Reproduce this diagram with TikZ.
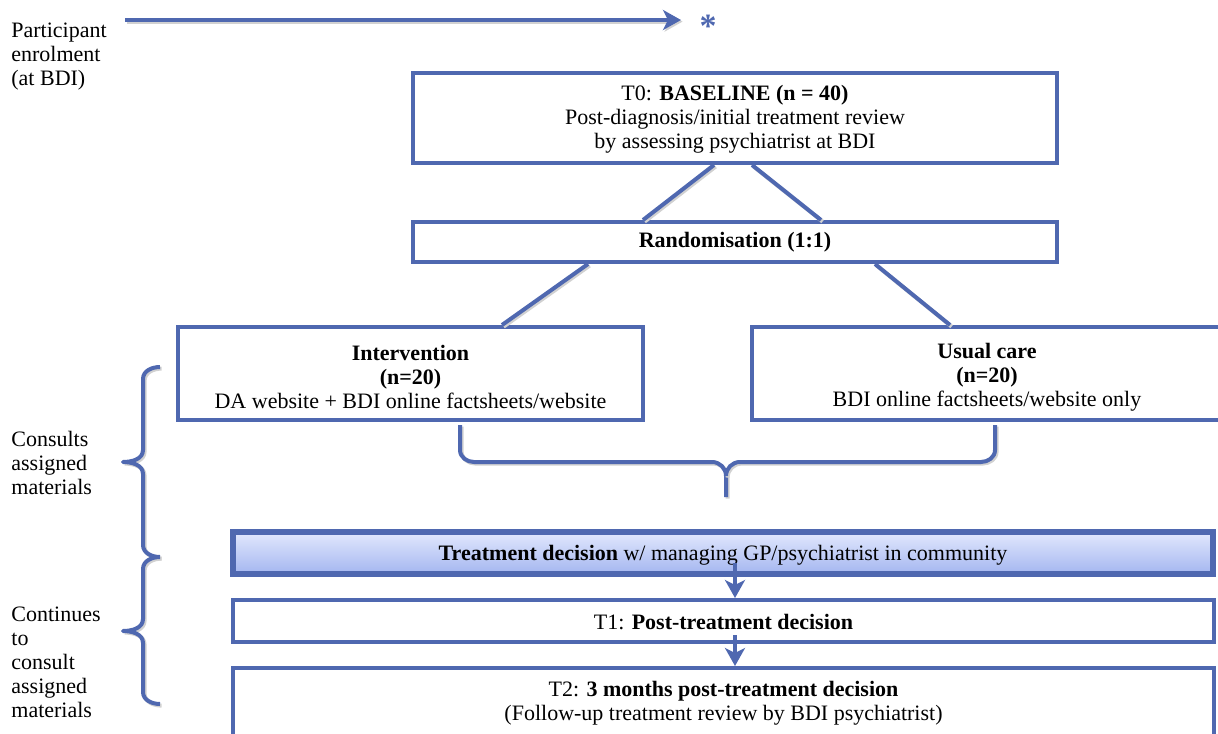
\documentclass[tikz,border=0pt]{standalone}
\usepackage{fontspec}
\setmainfont{Liberation Serif}
\usetikzlibrary{arrows.meta,calc,shadows}
\definecolor{lblue}{RGB}{79,104,176}
\definecolor{gtop}{RGB}{226,232,253}
\definecolor{gbot}{RGB}{164,182,240}
\tikzset{
 box/.style={draw=lblue, line width=2pt, fill=white, rectangle, inner sep=0pt, align=center,
   font=\fontsize{11}{12.2}\selectfont,
   drop shadow={shadow xshift=0.8pt,shadow yshift=-0.8pt,opacity=0.22}},
 ln/.style={draw=lblue, line width=2pt},
 shl/.style={preaction={draw=black!18, line width=2pt, transform canvas={xshift=0.8pt,yshift=-0.8pt}}},
 arr/.style={ln, -{Stealth[length=9pt,width=10pt,inset=2.5pt]}},
 lbl/.style={align=left, anchor=west, inner sep=0pt, font=\fontsize{11}{12}\selectfont},
 txt/.style={align=center, inner sep=0pt, font=\fontsize{11}{12}\selectfont},
}
\begin{document}
\begin{tikzpicture}[x=0.5pt,y=-0.5pt]
\useasboundingbox (0,0) rectangle (1218,733);

% left labels
\node[lbl] (enrol) at (11,57) {Participant\\enrolment\\(at BDI)};
\node[lbl] (consult) at (11,463) {Consults\\assigned\\materials};
\node[lbl] (cont) at (11,662) {Continues\\to\\consult\\assigned\\materials};

% top arrow and asterisk
\coordinate (as) at (125,20);
\coordinate (ae) at (681,20);
\draw[arr,shl] (as) -- (ae);
\node[txt, anchor=base, text=lblue, font=\fontsize{17}{18}\selectfont\bfseries] (star) at (708,38) {*};

% boxes
\node[box, minimum width=322pt, minimum height=45pt] (t0) at (735,118) {};
\node[txt] (t0t) at (735,119)
  {T0: \textbf{BASELINE (n = 40)}\\Post-diagnosis/initial treatment review\\by assessing psychiatrist at BDI};
\node[box, minimum width=322pt, minimum height=20pt] (rand) at (735,242)
  {\textbf{Randomisation (1:1)}};
\node[box, minimum width=232.5pt, minimum height=46.5pt] (int) at (410.5,373.5) {};
\node[txt] (intt) at (410.5,377)
  {\textbf{Intervention}\\\textbf{(n=20)}\\DA website + BDI online factsheets/website};
\node[box, minimum width=235pt, minimum height=46.5pt] (uc) at (987,373.5) {};
\node[txt] (uct) at (987,377)
  {\textbf{Usual care}\\\textbf{(n=20)}\\BDI online factsheets/website only};

% connectors T0 -> randomisation -> arms
\draw[ln,shl] ([xshift=-10.5pt]t0.south) -- ([xshift=-46pt]rand.north);
\draw[ln,shl] ([xshift=8.5pt]t0.south) -- ([xshift=43pt]rand.north);
\draw[ln,shl] ([xshift=-73.5pt]rand.south) -- ([xshift=45.75pt]int.north);
\draw[ln,shl] ([xshift=70pt]rand.south) -- ([xshift=-18.5pt]uc.north);

% bottom brace joining the arms
\coordinate (bl) at (460,425);
\coordinate (br) at (995,425);
\coordinate (bt) at (726,497);
\draw[ln,shl,line join=round] (bl) -- (460,450) to[out=-90,in=180] (474,462) -- (712,462)
   to[out=0,in=90] (726,476) -- (bt);
\draw[ln,shl,line join=round] (br) -- (995,450) to[out=-90,in=0] (981,462) -- (740,462)
   to[out=180,in=90] (726,476);

% lower boxes
\node[box, line width=2.6pt, top color=gtop, bottom color=gbot, minimum width=490pt, minimum height=21pt] (treat) at (723,553) {};
\node[txt] (treatt) at (723,555)
  {\textbf{Treatment decision} w/ managing GP/psychiatrist in community};
\node[box, minimum width=490.5pt, minimum height=21pt] (t1) at (723.5,621) {};
\node[txt] (t1t) at (723.5,622) {T1: \textbf{Post-treatment decision}};
\node[box, minimum width=490.5pt, minimum height=50pt] (t2) at (723.5,718) {};
\node[txt] (t2t) at (723.5,703)
  {T2: \textbf{3 months post-treatment decision}\\(Follow-up treatment review by BDI psychiatrist)};

\draw[arr] ([xshift=6pt,yshift=-5pt]treat.center) -- ([xshift=6pt]treat.center |- t1.north);
\draw[arr] ([xshift=5.75pt,yshift=-7pt]t1.center) -- ([xshift=5.75pt]t2.north);

% left braces
\draw[ln,shl,line join=round] (160,367) to[out=180,in=90] (143,379) -- (143,450)
   to[out=-90,in=0] (123,462) to[out=0,in=90] (143,474) -- (143,545) to[out=-90,in=180] (160,557);
\draw[ln,shl,line join=round] (160,557) to[out=180,in=90] (143,569) -- (143,619)
   to[out=-90,in=0] (123,631) to[out=0,in=90] (143,643) -- (143,692) to[out=-90,in=180] (160,704);
\end{tikzpicture}
\end{document}
